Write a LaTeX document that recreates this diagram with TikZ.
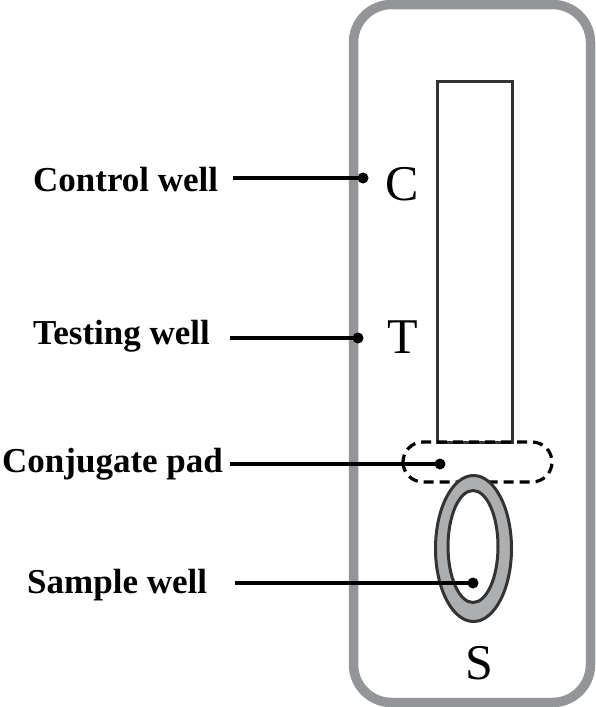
\documentclass[tikz,border=0pt]{standalone}
\usepackage{fontspec}
\setmainfont{Liberation Serif}
\definecolor{casegray}{HTML}{939598}
\definecolor{wellgray}{HTML}{ADAEB0}
\definecolor{edgedark}{HTML}{333333}
\tikzset{
  lbl/.style={anchor=base west, inner sep=0pt, font=\fontsize{35}{40}\selectfont\bfseries},
  letter/.style={anchor=base, inner sep=0pt, font=\fontsize{50}{56}\selectfont},
  conn/.style={line width=3.2pt, black},
  dotmark/.style={fill=black, circle, minimum size=11pt, inner sep=0pt},
}
\begin{document}
\begin{tikzpicture}[x=1pt,y=-1pt]
\useasboundingbox (0,0) rectangle (595,707);
% cassette
\draw[line width=9.5pt, casegray, rounded corners=38pt] (353.5,4.5) rectangle (590.5,702.5);
% strip
\draw[line width=3pt, edgedark] (437,81) rectangle (512,442);
% conjugate pad
\draw[line width=3.2pt, black, dash pattern=on 10pt off 6pt, rounded corners=20pt] (403,442) rectangle (552,482);
% sample well
\draw[line width=3pt, edgedark, fill=wellgray] (473.5,548.5) ellipse [x radius=38pt, y radius=73pt];
\draw[line width=3pt, edgedark, fill=white] (473,546.5) ellipse [x radius=25pt, y radius=56pt];
% letters
\node[letter] (C) at (402,200) {C};
\node[letter] (T) at (403,353) {T};
\node[letter] (S) at (479.5,679) {S};
% labels
\node[lbl] (ctl) at (33,191) {Control well};
\node[lbl] (tst) at (33,344) {Testing well};
\node[lbl] (cnj) at (2,472) {Conjugate pad};
\node[lbl] (smp) at (27,593) {Sample well};
% dots
\node[dotmark] (cdot) at (363,178) {};
\node[dotmark] (tdot) at (358,338) {};
\node[dotmark] (pdot) at (440,464) {};
\node[dotmark] (sdot) at (473,583) {};
% connector starts
\coordinate (c0) at (233,178);
\coordinate (t0) at (230,338);
\coordinate (p0) at (230,464);
\coordinate (s0) at (235,583);
\draw[conn] (c0) -- (cdot.center);
\draw[conn] (t0) -- (tdot.center);
\draw[conn] (p0) -- (pdot.center);
\draw[conn] (s0) -- (sdot.center);
\end{tikzpicture}
\end{document}
